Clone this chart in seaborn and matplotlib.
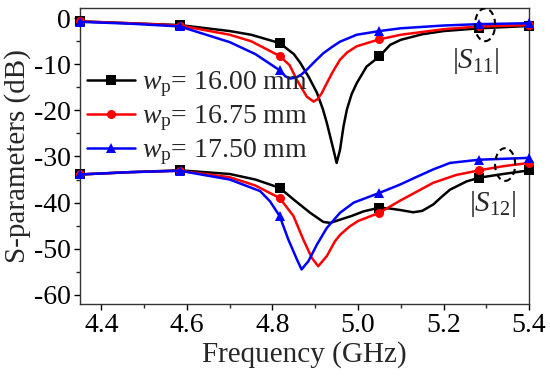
import matplotlib
matplotlib.use("Agg")
import matplotlib.pyplot as plt
from matplotlib.patches import Ellipse
from matplotlib.ticker import MultipleLocator
import numpy as np
import pandas as pd
import seaborn as sns

# Frequenzen, an denen Marker sitzen
mark_f = [4.35, 4.5833, 4.8167, 5.05, 5.2833, 5.4]

# |S11| fuer drei Patchbreiten
f11_a = [4.35, 4.4667, 4.5833, 4.70, 4.75, 4.8167, 4.85, 4.865, 4.885, 4.904, 4.918, 4.927, 4.9425, 4.950,
         4.958, 4.966, 4.974, 4.985, 4.997, 5.02, 5.05, 5.075, 5.1, 5.15, 5.2, 5.2833, 5.4]
s11_a = [-0.7, -1.1, -1.5, -2.8, -3.6, -5.4, -7.8, -9.7, -12.8, -16.2, -19.8, -22.7, -28.5, -31.4,
         -28.5, -23.5, -19.8, -16.5, -14.1, -10.5, -8.3, -5.8, -4.7, -3.5, -2.8, -2.2, -1.7]
f11_b = [4.35, 4.4667, 4.5833, 4.70, 4.75, 4.8167, 4.84, 4.857, 4.88, 4.896, 4.905, 4.915, 4.927, 4.94,
         4.958, 4.975, 4.997, 5.05, 5.1, 5.2, 5.2833, 5.4]
s11_b = [-0.7, -1.1, -1.6, -3.6, -5.0, -8.2, -10.2, -13.4, -17.0, -18.1, -17.6, -16.3, -14.1, -11.8,
         -9.0, -7.4, -6.1, -4.6, -3.6, -2.4, -1.8, -1.5]
f11_c = [4.35, 4.4667, 4.5833, 4.70, 4.76, 4.8167, 4.83, 4.841, 4.855, 4.868, 4.88, 4.9, 4.919, 4.94,
         4.958, 4.997, 5.05, 5.1, 5.2, 5.2833, 5.4]
s11_c = [-0.8, -1.2, -1.8, -5.2, -7.8, -11.3, -12.6, -13.1, -12.9, -12.2, -11.2, -9.3, -7.6, -6.2,
         -5.1, -3.6, -2.8, -2.2, -1.6, -1.3, -1.1]

# |S12| fuer drei Patchbreiten
f12_a = [4.35, 4.4667, 4.5833, 4.70, 4.76, 4.8167, 4.849, 4.888, 4.919, 4.935, 4.958, 4.985, 5.013, 5.05,
         5.075, 5.098, 5.129, 5.15, 5.176, 5.195, 5.215, 5.254, 5.2833, 5.332, 5.4]
s12_a = [-33.9, -33.4, -33.0, -33.8, -35.0, -36.8, -39.3, -42.2, -44.2, -44.4, -43.7, -42.9, -41.9, -41.1,
         -41.3, -41.6, -42.1, -41.8, -40.4, -38.8, -37.2, -35.4, -34.6, -33.9, -33.0]
f12_b = [4.35, 4.4667, 4.5833, 4.70, 4.76, 4.8167, 4.849, 4.872, 4.892, 4.907, 4.927, 4.946, 4.958, 4.98,
         5.0, 5.05, 5.098, 5.14, 5.176, 5.23, 5.2833, 5.34, 5.4]
s12_b = [-33.9, -33.4, -33.1, -34.5, -36.3, -39.0, -42.9, -48.0, -52.0, -53.8, -51.6, -48.4, -47.0, -45.2,
         -44.0, -42.2, -39.6, -37.5, -35.7, -34.0, -33.0, -32.1, -31.4]
f12_c = [4.35, 4.4667, 4.5833, 4.70, 4.771, 4.794, 4.8167, 4.837, 4.857, 4.868, 4.884, 4.904, 4.927, 4.958,
         4.99, 5.05, 5.098, 5.14, 5.176, 5.215, 5.2833, 5.4]
s12_c = [-33.9, -33.4, -33.1, -35.0, -37.5, -39.7, -42.9, -48.0, -52.3, -54.5, -52.7, -49.1, -45.5, -42.2,
         -40.0, -37.9, -36.1, -34.3, -32.8, -31.4, -30.7, -30.3]

labels = [r"$w_{\rm p}$= 16.00 mm", r"$w_{\rm p}$= 16.75 mm", r"$w_{\rm p}$= 17.50 mm"]
colors = ["black", "red", "blue"]
markers = ["s", "o", "^"]

sns.set_style("ticks")
plt.rcParams["font.family"] = ["Liberation Serif", "DejaVu Serif"]
plt.rcParams["mathtext.fontset"] = "custom"
plt.rcParams["mathtext.rm"] = "Liberation Serif"
plt.rcParams["mathtext.it"] = "Liberation Serif:italic"
plt.rcParams["axes.unicode_minus"] = False

fig = plt.figure(figsize=(5.5, 3.81), dpi=100)
ax = fig.add_axes([0.1455, 0.202, 0.8165, 0.777])

s11 = [(f11_a, s11_a), (f11_b, s11_b), (f11_c, s11_c)]
s12 = [(f12_a, s12_a), (f12_b, s12_b), (f12_c, s12_c)]

for i in range(3):
    for (f, s), lab in ((s11[i], labels[i]), (s12[i], None)):
        df = pd.DataFrame({"f": f, "s": s})
        idx = list(np.where(np.isin(np.round(df["f"], 4), mark_f))[0])
        sns.lineplot(data=df, x="f", y="s", ax=ax, color=colors[i], lw=1.8, marker=markers[i],
                     markersize=6.5, markeredgewidth=0, markevery=idx, label=lab, sort=False,
                     clip_on=False, zorder=3 + i)

ax.set_xlim(4.35, 5.4)
ax.set_ylim(-62, 2.2)
ax.xaxis.set_major_locator(MultipleLocator(0.2))
ax.xaxis.set_minor_locator(MultipleLocator(0.1))
ax.yaxis.set_major_locator(MultipleLocator(10))
ax.yaxis.set_minor_locator(MultipleLocator(5))
ax.tick_params(which="major", direction="out", length=4.5, width=1, labelsize=20, colors="black", pad=2)
ax.tick_params(which="minor", direction="out", length=3, width=1)
ax.xaxis.set_major_formatter(matplotlib.ticker.FormatStrFormatter("%.1f"))
for sp in ax.spines.values():
    sp.set_visible(True)
    sp.set_linewidth(1)
    sp.set_color("#333333")

ax.set_xlabel("Frequency (GHz)", fontsize=21, labelpad=2)
ax.set_ylabel("S-parameters (dB)", fontsize=21, labelpad=2)

ax.add_patch(Ellipse((5.297, -1.45), 0.047, 7.1, fill=False, ls=(0, (3, 2)), lw=1.5, color="black", zorder=10))
ax.add_patch(Ellipse((5.344, -31.75), 0.047, 7.1, fill=False, ls=(0, (3, 2)), lw=1.5, color="black", zorder=10))
ax.text(5.274, -9.4, r"$|S_{11}|$", fontsize=21, ha="center", va="center")
ax.text(5.314, -40.2, r"$|S_{12}|$", fontsize=21, ha="center", va="center")

leg = ax.legend(loc="center left", bbox_to_anchor=(0.015, 0.627), frameon=False, fontsize=20,
                handlelength=1.74, handletextpad=0.24, labelspacing=0.15, borderaxespad=0, borderpad=0)

fig.savefig("out.png", dpi=100)
